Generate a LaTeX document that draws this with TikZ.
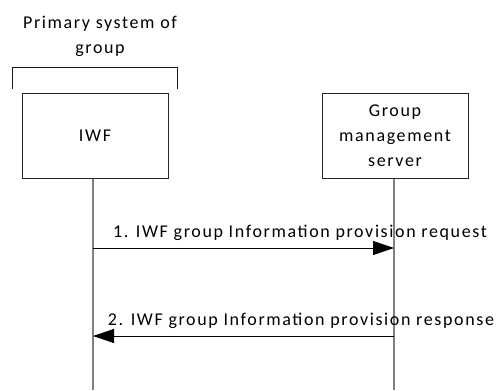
\documentclass[tikz,border=0pt]{standalone}
\usepackage{fontspec}
\setmainfont{Carlito}[LetterSpace=9]
\usetikzlibrary{arrows.meta}
\begin{document}
\begin{tikzpicture}[x=1pt,y=1pt,
  life/.style={draw=black!50,line width=1.4pt},
  brk/.style={draw=black!90,line width=1pt},
  msg/.style={draw=black,line width=0.9pt,-{Triangle[length=21pt,width=14pt]}},
  lbl/.style={font=\fontsize{18}{25}\selectfont,inner sep=0pt},
  box/.style={draw=black!85,line width=1pt,fill=white,minimum width=146pt,minimum height=84pt,align=center,font=\fontsize{18}{25}\selectfont}]
\useasboundingbox (0,0) rectangle (502,-390);
\node[lbl,align=center] (title) at (100,-36) {Primary system of\\group};
\coordinate (bl) at (12,-89);
\coordinate (br) at (177,-89);
\draw[brk] (bl) -- (12,-68) -- (177,-68) -- (br);
\node[box] (iwf) at (95,-136) {IWF};
\node[box] (gms) at (395,-136) {Group\\management\\server};
\coordinate (iwfend) at (93,-390);
\coordinate (gmsend) at (394,-390);
\draw[life] (iwf.south -| iwfend) -- (iwfend);
\draw[life] (gms.south -| gmsend) -- (gmsend);
\coordinate (a1s) at (93,-248);
\coordinate (a1e) at (394,-248);
\coordinate (a2s) at (394,-336);
\coordinate (a2e) at (93,-336);
\draw[msg] (a1s) -- (a1e);
\draw[msg] (a2s) -- (a2e);
\node[lbl] (l1) at (300,-233) {1. IWF group Information provision request};
\node[lbl] (l2) at (301,-321) {2. IWF group Information provision response};
\end{tikzpicture}
\end{document}
